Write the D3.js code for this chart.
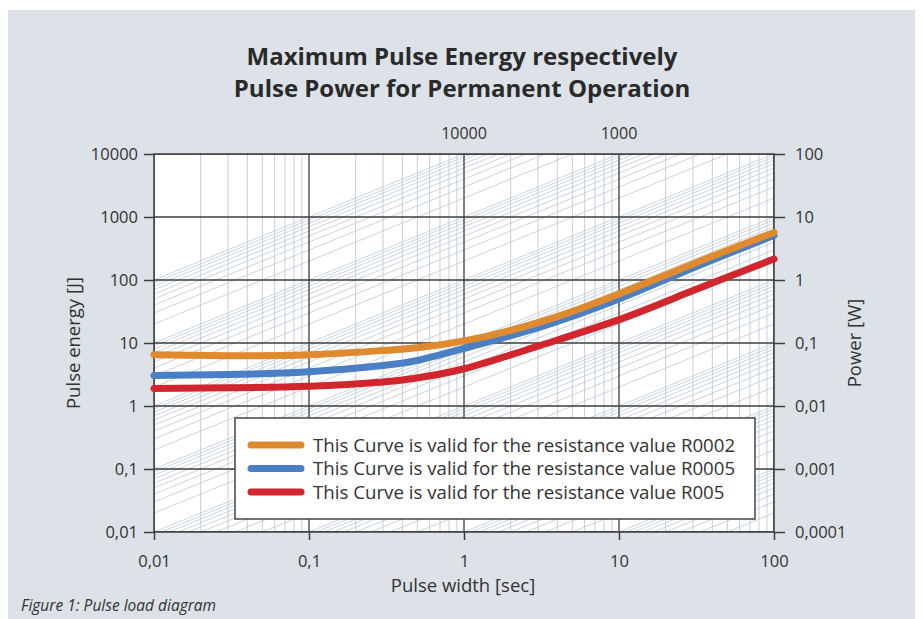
<!DOCTYPE html>
<html>
<head>
<meta charset="utf-8">
<script src="https://cdn.jsdelivr.net/npm/d3@7"></script>
<style>
  html, body { margin: 0; padding: 0; background: #ffffff; }
  svg { display: block; font-family: "Open Sans", sans-serif; }
</style>
</head>
<body>
<svg id="chart" width="923" height="619"></svg>
<script>
// Pulse width [sec] sample points
const pulseWidth = [0.01, 0.03, 0.1, 0.3, 0.5, 1, 3, 10, 30, 100];

// Pulse energy [J] per curve
const energyR0002 = [6.5, 6.3, 6.5, 7.6, 8.4, 10.8, 21, 60, 180, 570];
const energyR0005 = [3.05, 3.15, 3.5, 4.4, 5.3, 8.2, 17.5, 50, 155, 510];
const energyR005 = [1.9, 1.95, 2.05, 2.4, 2.8, 3.9, 8.9, 23.5, 68, 215];

const seriesLabels = [
  "This Curve is valid for the resistance value R0002",
  "This Curve is valid for the resistance value R0005",
  "This Curve is valid for the resistance value R005",
];
const seriesColors = ["#e08a30", "#4a7fc5", "#d2262e"];

const xTicks = [0.01, 0.1, 1, 10, 100];
const xTickLabels = ["0,01", "0,1", "1", "10", "100"];
const yTicks = [0.01, 0.1, 1, 10, 100, 1000, 10000];
const yTickLabels = ["0,01", "0,1", "1", "10", "100", "1000", "10000"];
const powerTickLabels = ["0,0001", "0,001", "0,01", "0,1", "1", "10", "100"];

// power of the iso lines that hit the top edge
const topTicks = [1, 10];
const topTickLabels = ["10000", "1000"];

const svg = d3.select("#chart");

// light grey-blue panel
svg.append("rect")
  .attr("x", 8).attr("y", 10)
  .attr("width", 907).attr("height", 609)
  .attr("fill", "#dce2e8");

const plot = { left: 154, right: 774, top: 154, bottom: 532 };

const x = d3.scaleLog().domain([0.01, 100]).range([plot.left, plot.right]);
const y = d3.scaleLog().domain([0.01, 10000]).range([plot.bottom, plot.top]);

// title
svg.append("text")
  .attr("x", 462).attr("y", 65)
  .attr("text-anchor", "middle")
  .attr("font-size", 24).attr("font-weight", "bold")
  .attr("fill", "#2a2a2a")
  .text("Maximum Pulse Energy respectively");
svg.append("text")
  .attr("x", 462).attr("y", 97)
  .attr("text-anchor", "middle")
  .attr("font-size", 24).attr("font-weight", "bold")
  .attr("fill", "#2a2a2a")
  .text("Pulse Power for Permanent Operation");

svg.append("rect")
  .attr("x", plot.left).attr("y", plot.top)
  .attr("width", plot.right - plot.left)
  .attr("height", plot.bottom - plot.top)
  .attr("fill", "#ffffff");

svg.append("clipPath").attr("id", "plotClip")
  .append("rect")
  .attr("x", plot.left).attr("y", plot.top)
  .attr("width", plot.right - plot.left)
  .attr("height", plot.bottom - plot.top);

const grid = svg.append("g").attr("clip-path", "url(#plotClip)");
const minorColor = "#c3cfda";

// minor vertical lines (2..9 per decade)
const minorX = [];
for (let d = -2; d < 2; d++) {
  for (let k = 2; k <= 9; k++) minorX.push(k * Math.pow(10, d));
}
grid.selectAll(".minor-x")
  .data(minorX)
  .enter().append("line")
  .attr("x1", (d) => x(d)).attr("x2", (d) => x(d))
  .attr("y1", plot.top).attr("y2", plot.bottom)
  .attr("stroke", minorColor).attr("stroke-width", 1);

// iso-power diagonal lines, E = P * t
const isoPower = [];
for (let n = -5; n <= 3; n++) {
  for (let k = 1; k <= 9; k++) isoPower.push(k * Math.pow(10, n));
}
isoPower.push(10000);
grid.selectAll(".iso")
  .data(isoPower)
  .enter().append("line")
  .attr("x1", x(0.01)).attr("y1", (p) => y(p * 0.01))
  .attr("x2", x(100)).attr("y2", (p) => y(p * 100))
  .attr("stroke", minorColor).attr("stroke-width", 0.9);

// major grid
const majorColor = "#3c3c3c";
grid.selectAll(".major-x")
  .data(xTicks)
  .enter().append("line")
  .attr("x1", (d) => x(d)).attr("x2", (d) => x(d))
  .attr("y1", plot.top).attr("y2", plot.bottom)
  .attr("stroke", majorColor).attr("stroke-width", 1.3);
grid.selectAll(".major-y")
  .data(yTicks)
  .enter().append("line")
  .attr("x1", plot.left).attr("x2", plot.right)
  .attr("y1", (d) => y(d)).attr("y2", (d) => y(d))
  .attr("stroke", majorColor).attr("stroke-width", 1.3);

// frame
svg.append("rect")
  .attr("x", plot.left).attr("y", plot.top)
  .attr("width", plot.right - plot.left)
  .attr("height", plot.bottom - plot.top)
  .attr("fill", "none")
  .attr("stroke", majorColor).attr("stroke-width", 1.5);

// left axis
const leftAxis = d3.axisLeft(y)
  .tickValues(yTicks)
  .tickFormat((d, i) => yTickLabels[i])
  .tickSize(10).tickPadding(6);
const gLeft = svg.append("g")
  .attr("transform", `translate(${plot.left},0)`)
  .call(leftAxis);

// right axis (power = energy / 100)
const rightAxis = d3.axisRight(y)
  .tickValues(yTicks)
  .tickFormat((d, i) => powerTickLabels[i])
  .tickSize(11).tickPadding(10);
const gRight = svg.append("g")
  .attr("transform", `translate(${plot.right},0)`)
  .call(rightAxis);

// bottom axis
const bottomAxis = d3.axisBottom(x)
  .tickValues(xTicks)
  .tickFormat((d, i) => xTickLabels[i])
  .tickSize(8).tickPadding(15);
const gBottom = svg.append("g")
  .attr("transform", `translate(0,${plot.bottom})`)
  .call(bottomAxis);

[gLeft, gRight, gBottom].forEach((g) => {
  g.select(".domain").remove();
  g.selectAll(".tick line").attr("stroke", majorColor).attr("stroke-width", 1.5);
  g.selectAll(".tick text")
    .attr("font-family", "Open Sans, sans-serif")
    .attr("font-size", 16.5)
    .attr("fill", "#333333");
});

// top labels for iso-power lines
svg.selectAll(".top-label")
  .data(topTicks)
  .enter().append("text")
  .attr("x", (d) => x(d))
  .attr("y", 139)
  .attr("text-anchor", "middle")
  .attr("font-size", 16)
  .attr("fill", "#333333")
  .text((d, i) => topTickLabels[i]);

// axis titles
svg.append("text")
  .attr("x", 463).attr("y", 592)
  .attr("text-anchor", "middle")
  .attr("font-size", 18.5).attr("fill", "#333333")
  .text("Pulse width [sec]");
svg.append("text")
  .attr("transform", "translate(80,343) rotate(-90)")
  .attr("text-anchor", "middle")
  .attr("font-size", 18.5).attr("fill", "#333333")
  .text("Pulse energy [J]");
svg.append("text")
  .attr("transform", "translate(861,343) rotate(-90)")
  .attr("text-anchor", "middle")
  .attr("font-size", 18.5).attr("fill", "#333333")
  .text("Power [W]");

// curves
const series = [energyR0002, energyR0005, energyR005];
const line = d3.line()
  .x((d, i) => x(pulseWidth[i]))
  .y((d) => y(d))
  .curve(d3.curveNatural);

// draw red first, orange last (on top)
[2, 1, 0].forEach((s) => {
  svg.append("path")
    .datum(series[s])
    .attr("d", line)
    .attr("fill", "none")
    .attr("stroke", seriesColors[s])
    .attr("stroke-width", 7)
    .attr("stroke-linecap", "round")
    .attr("stroke-linejoin", "round");
});

// legend
const legend = svg.append("g").attr("transform", "translate(235,418)");
legend.append("rect")
  .attr("width", 520).attr("height", 101)
  .attr("fill", "#ffffff")
  .attr("stroke", "#444444").attr("stroke-width", 1.5);
const entries = legend.selectAll(".legend-entry")
  .data(seriesLabels)
  .enter().append("g")
  .attr("transform", (d, i) => `translate(0,${27 + i * 23.5})`);
entries.append("line")
  .attr("x1", 16).attr("x2", 66)
  .attr("stroke", (d, i) => seriesColors[i])
  .attr("stroke-width", 7)
  .attr("stroke-linecap", "round");
entries.append("text")
  .attr("x", 78).attr("y", 6.5)
  .attr("font-size", 18.7).attr("fill", "#333333")
  .text((d) => d);

// caption
svg.append("text")
  .attr("x", 21).attr("y", 611)
  .attr("font-size", 15.5).attr("font-style", "italic")
  .attr("fill", "#333333")
  .text("Figure 1: Pulse load diagram");
</script>
</body>
</html>
